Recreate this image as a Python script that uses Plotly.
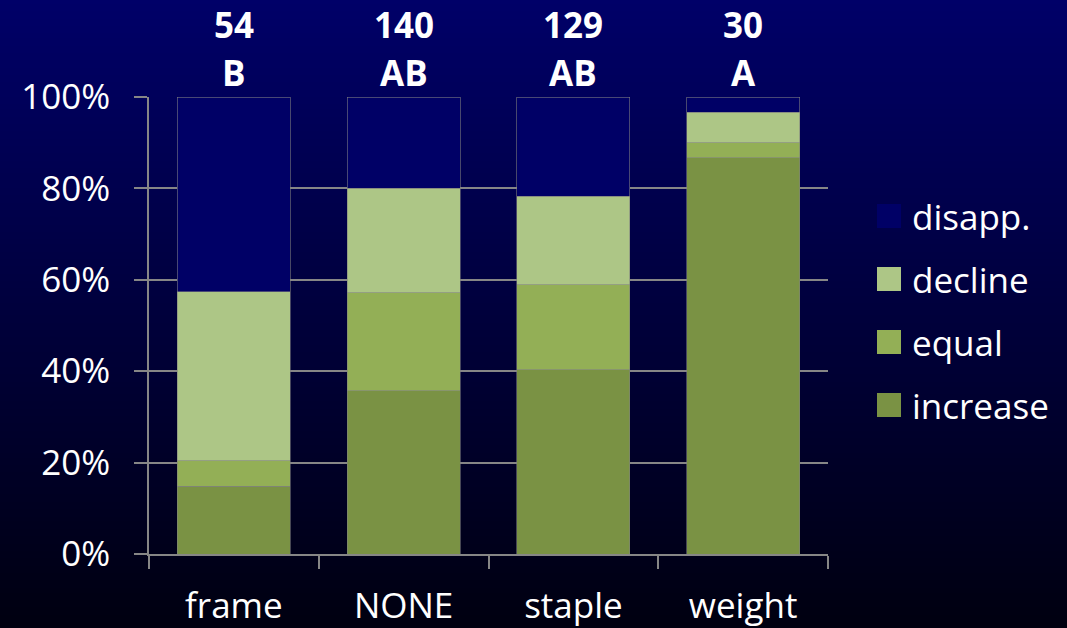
import base64
import struct
import zlib

import plotly.graph_objects as go

# Outcome counts per treatment (stacked and normalised to 100 % by plotly)
categories = ["frame", "NONE", "staple", "weight"]
sample_sizes = [54, 140, 129, 30]
group_letters = ["B", "AB", "AB", "A"]
increase = [8, 50, 52, 26]
equal = [3, 30, 24, 1]
decline = [20, 32, 25, 2]
disapp = [23, 28, 28, 1]

series_names = ["increase", "equal", "decline", "disapp."]
series_values = [increase, equal, decline, disapp]
series_colors = ["#7A9244", "#93AF56", "#ADC686", "#000066"]

W, H = 1067, 628
M_L, M_R, M_T, M_B = 149, 239, 97, 74
PW, PH = W - M_L - M_R, H - M_T - M_B

FONT = "Open Sans"
GRID = "#868686"


def px_x(p):
    return (p - M_L) / PW


def px_y(p):
    return (H - M_B - p) / PH


def gradient_png(height, top, bottom):
    """1-pixel wide vertical gradient as a PNG data URI."""
    rows = b""
    for i in range(height):
        t = i / (height - 1)
        rgb = [round(a + (b - a) * t) for a, b in zip(top, bottom)]
        rows += b"\x00" + bytes(rgb)

    def chunk(tag, data):
        c = struct.pack(">I", len(data)) + tag + data
        return c + struct.pack(">I", zlib.crc32(tag + data) & 0xFFFFFFFF)

    png = b"\x89PNG\r\n\x1a\n"
    png += chunk(b"IHDR", struct.pack(">IIBBBBB", 1, height, 8, 2, 0, 0, 0))
    png += chunk(b"IDAT", zlib.compress(rows))
    png += chunk(b"IEND", b"")
    return "data:image/png;base64," + base64.b64encode(png).decode()


fig = go.Figure()
for name, vals, col in zip(series_names, series_values, series_colors):
    fig.add_trace(go.Bar(
        x=categories, y=vals, name=name,
        marker=dict(color=col, line=dict(color="rgba(128,128,128,0.7)", width=0.8)),
        showlegend=False,
    ))

# sample size and significance group above each bar
annotations = []
for cat, n, letter in zip(categories, sample_sizes, group_letters):
    annotations.append(dict(x=cat, xref="x", y=px_y(0), yref="paper", text=str(n),
                            showarrow=False, yanchor="top", borderpad=0,
                            font=dict(family=FONT, size=35, color="white", weight="bold")))
    annotations.append(dict(x=cat, xref="x", y=px_y(73), yref="paper", text=letter,
                            showarrow=False, yanchor="middle", borderpad=0,
                            font=dict(family=FONT, size=35, color="white", weight="bold")))

# legend: coloured squares with labels, top entry is the top of the stack
shapes = []
legend_rows = [216, 279, 342, 405]
for i, (name, col) in enumerate(zip(series_names[::-1], series_colors[::-1])):
    cy = legend_rows[i]
    shapes.append(dict(type="rect", xref="paper", yref="paper",
                       x0=px_x(877), x1=px_x(901), y0=px_y(cy + 12), y1=px_y(cy - 12),
                       fillcolor=col, line=dict(width=0)))
    annotations.append(dict(x=px_x(910), y=px_y(cy), xref="paper", yref="paper",
                            text=name, showarrow=False, xanchor="left", yanchor="middle",
                            font=dict(family=FONT, size=35, color="white")))

fig.update_layout(
    width=W, height=H,
    margin=dict(l=M_L, r=M_R, t=M_T, b=M_B, pad=0),
    barmode="stack", barnorm="percent", bargap=0.335,
    paper_bgcolor="#000000", plot_bgcolor="rgba(0,0,0,0)",
    font=dict(family=FONT, size=35, color="white"),
    showlegend=False,
    annotations=annotations,
    shapes=shapes,
    images=[dict(
        source=gradient_png(256, (0, 0, 104), (0, 0, 16)),
        xref="paper", yref="paper",
        x=-M_L / PW, y=1 + M_T / PH, sizex=W / PW, sizey=H / PH,
        xanchor="left", yanchor="top", sizing="stretch", layer="below",
    )],
)

fig.update_xaxes(
    showline=True, linecolor=GRID, linewidth=1.5,
    ticks="outside", tickson="boundaries", ticklen=13, tickwidth=1.5, tickcolor=GRID,
    showgrid=False, automargin=False, ticklabelstandoff=20,
    tickfont=dict(family=FONT, size=35, color="white"),
)
fig.update_yaxes(
    range=[0, 100], dtick=20, ticksuffix="%",
    showline=True, linecolor=GRID, linewidth=1.5,
    ticks="outside", ticklen=13, tickwidth=1.5, tickcolor=GRID,
    showgrid=True, gridcolor=GRID, gridwidth=1.5, zeroline=False,
    automargin=False, ticklabelstandoff=17,
    tickfont=dict(family=FONT, size=35, color="white"),
)

fig.write_html("out.html")
